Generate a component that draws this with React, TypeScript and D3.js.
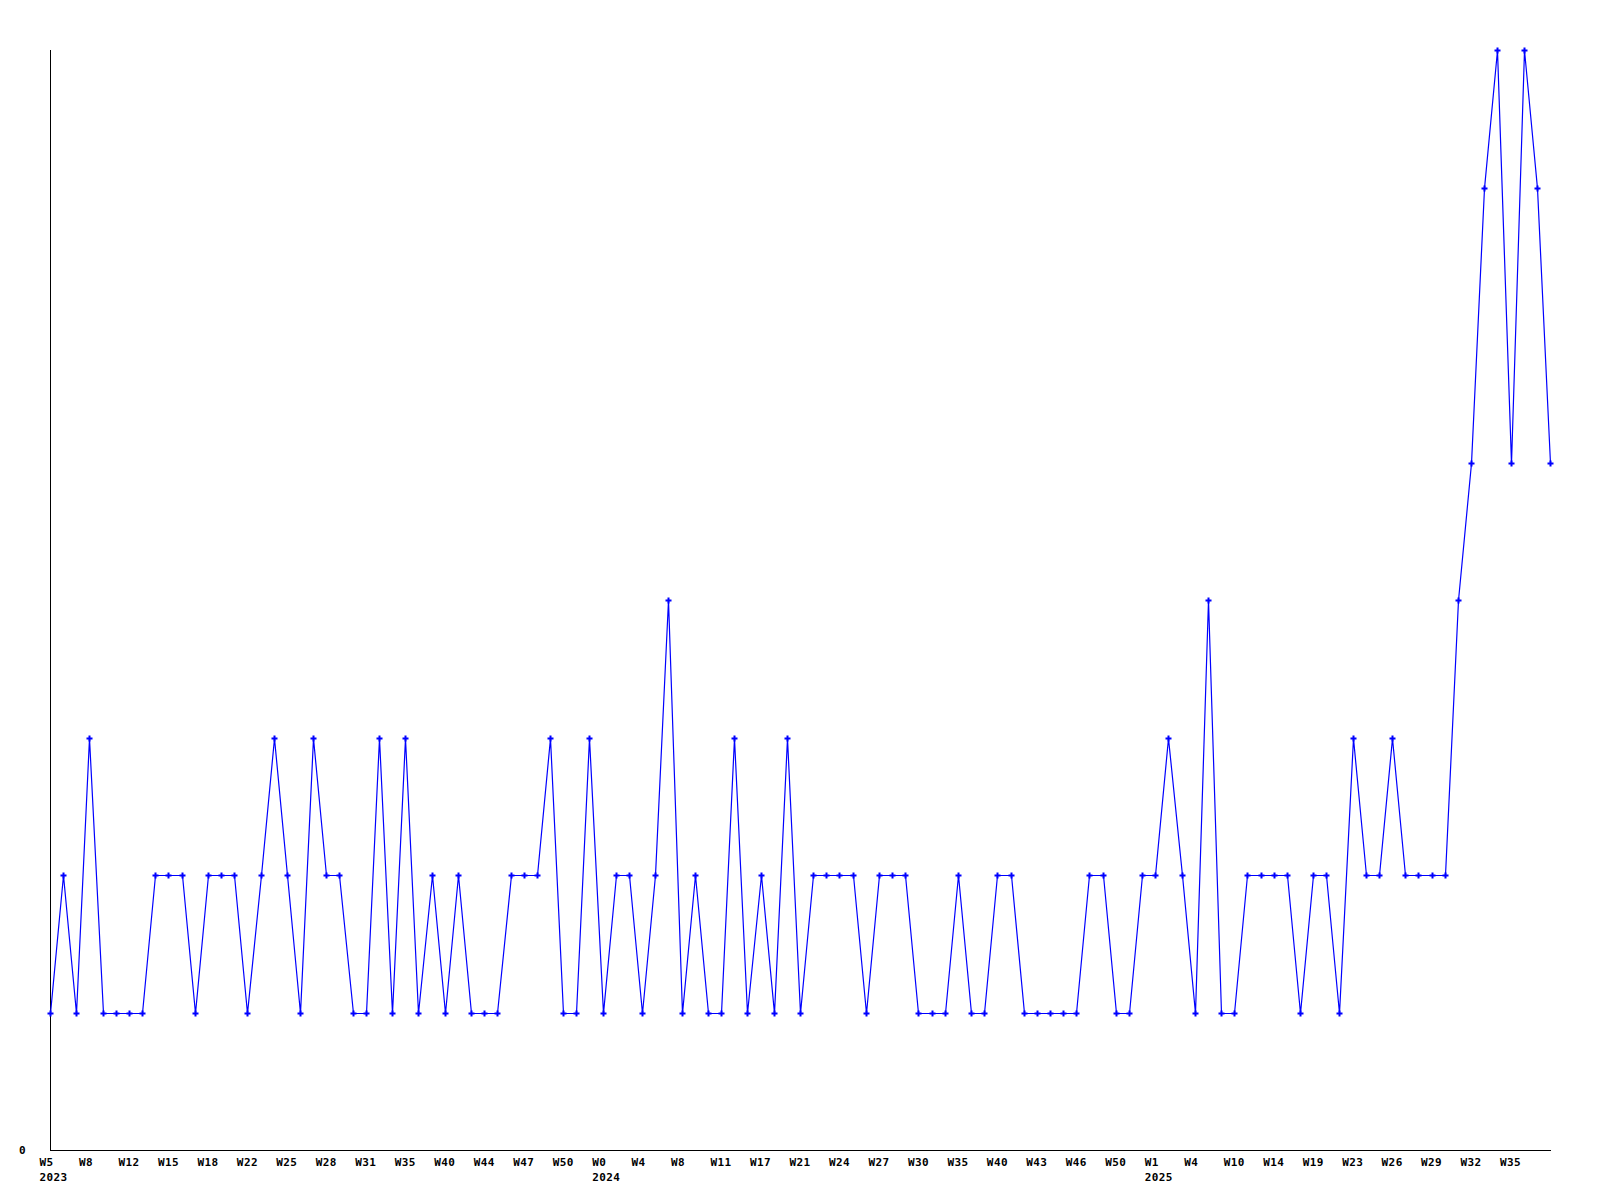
import React from "react";
import * as d3 from "d3";

// weekly counts, one per point (115 points from 2023 W5 on)
const values: number[] = [
  1, 2, 1, 3, 1, 1, 1, 1, 2, 2, 2, 1, 2, 2, 2, 1, 2, 3, 2, 1, 3, 2, 2, 1, 1,
  3, 1, 3, 1, 2, 1, 2, 1, 1, 1, 2, 2, 2, 3, 1, 1, 3, 1, 2, 2, 1, 2, 4, 1, 2,
  1, 1, 3, 1, 2, 1, 3, 1, 2, 2, 2, 2, 1, 2, 2, 2, 1, 1, 1, 2, 1, 1, 2, 2, 1,
  1, 1, 1, 1, 2, 2, 1, 1, 2, 2, 3, 2, 1, 4, 1, 1, 2, 2, 2, 2, 1, 2, 2, 1, 3,
  2, 2, 3, 2, 2, 2, 2, 4, 5, 7, 8, 5, 8, 7, 5,
];

// a label on every third point
const weekLabels: string[] = [
  "W5", "W8", "W12", "W15", "W18", "W22", "W25", "W28", "W31", "W35", "W40",
  "W44", "W47", "W50", "W0", "W4", "W8", "W11", "W17", "W21", "W24", "W27",
  "W30", "W35", "W40", "W43", "W46", "W50", "W1", "W4", "W10", "W14", "W19",
  "W23", "W26", "W29", "W32", "W35",
];
const labelStep = 3;

const yearLabels: { index: number; year: string }[] = [
  { index: 0, year: "2023" },
  { index: 42, year: "2024" },
  { index: 84, year: "2025" },
];

const yMax = 8;

const width = 1600;
const height = 1200;
const left = 50;
const right = 1550;
const top = 50;
const bottom = 1150;

const font = {
  fontFamily: "'DejaVu Sans Mono', monospace",
  fontWeight: "bold" as const,
  fontSize: 11,
  letterSpacing: 0.4,
};

const App: React.FC = () => {
  const x = d3.scaleLinear().domain([0, values.length - 1]).range([left, right]);
  const y = d3.scaleLinear().domain([0, yMax]).range([bottom, top]);

  const line = d3
    .line<number>()
    .x((d, i) => Math.round(x(i)))
    .y((d) => Math.round(y(d)));

  const marker = d3.symbol().type(d3.symbolCross).size(20)();

  return (
    <svg
      width={width}
      height={height}
      style={{ position: "absolute", left: 0, top: 0, background: "#fff" }}
    >
      <line x1={left + 0.5} x2={left + 0.5} y1={top} y2={bottom + 1} stroke="#000" strokeWidth={1} />
      <line x1={left} x2={right + 1} y1={bottom + 0.5} y2={bottom + 0.5} stroke="#000" strokeWidth={1} />
      <text x={19} y={1154} {...font} fill="#000">
        0
      </text>

      {weekLabels.map((lab, k) => (
        <text key={"w" + k} x={x(k * labelStep) - 10.5} y={1166} {...font} fill="#000">
          {lab}
        </text>
      ))}
      {yearLabels.map((d) => (
        <text key={d.year} x={x(d.index) - 10.5} y={1181} {...font} fill="#000">
          {d.year}
        </text>
      ))}

      <path
        d={line(values) as string}
        fill="none"
        stroke="#0000ff"
        strokeWidth={1.2}
        transform="translate(0.5,0.5)"
      />
      {values.map((v, i) => (
        <path
          key={i}
          d={marker}
          fill="#0000ff"
          transform={`translate(${Math.round(x(i)) + 0.5},${Math.round(y(v)) + 0.5})`}
        />
      ))}
    </svg>
  );
};

export default App;
